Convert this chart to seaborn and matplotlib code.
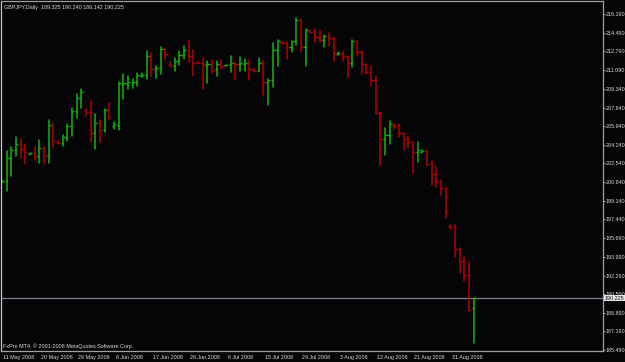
import numpy as np
import pandas as pd
import matplotlib
matplotlib.use("Agg")
import matplotlib.pyplot as plt
import matplotlib.transforms as mtransforms
from matplotlib import font_manager as fm
import seaborn as sns

# ---------------- data ----------------
date_labels = ["11 May 2008", "20 May 2008", "29 May 2008", "8 Jun 2008", "17 Jun 2008",
               "26 Jun 2008", "6 Jul 2008", "15 Jul 2008", "24 Jul 2008", "3 Aug 2008",
               "12 Aug 2008", "21 Aug 2008", "31 Aug 2008"]
date_bars = [0, 8, 16, 24, 32, 40, 48, 56, 64, 72, 80, 88, 96]

opens = [200.86, 200.89, 203.05, 203.72, 204.27, 203.82, 203.42, 203.45, 203.21, 203.97,
         203.30, 206.04, 204.52, 204.36, 204.88, 205.92, 207.29, 208.48, 207.38, 207.26,
         205.28, 206.19, 205.58, 207.38, 205.95, 206.04, 209.82, 209.82, 209.91, 210.00,
         210.52, 210.58, 212.32, 211.16, 211.31, 212.96, 211.65, 211.43, 211.89, 212.44,
         212.86, 212.32, 211.77, 211.71, 211.55, 211.62, 211.13, 211.59, 211.49, 211.59,
         211.68, 211.65, 211.62, 211.68, 211.10, 210.98, 211.71, 209.95, 210.16, 212.87,
         213.60, 213.51, 213.21, 213.69, 215.61, 213.14, 214.64, 214.61, 214.12, 213.84,
         214.18, 213.97, 212.57, 212.66, 212.32, 211.68, 213.72, 212.72, 211.59, 210.89,
         210.19, 207.14, 204.74, 205.10, 206.01, 206.01, 205.28, 204.74, 204.46, 203.55,
         203.61, 203.67, 202.51, 201.60, 200.93, 200.26, 196.78, 196.72, 194.74, 193.64,
         192.30, 189.325]
highs = [201.01, 203.66, 204.06, 204.91, 204.73, 204.30, 203.51, 204.03, 204.64, 204.03,
         206.47, 206.19, 204.61, 205.13, 206.13, 207.56, 208.84, 209.30, 207.53, 208.29,
         207.01, 206.53, 207.47, 208.02, 206.28, 209.94, 210.67, 210.52, 210.21, 210.82,
         210.76, 212.77, 212.62, 211.43, 213.17, 213.05, 211.77, 212.13, 212.83, 213.26,
         213.84, 212.86, 211.80, 212.19, 211.89, 211.98, 211.89, 211.98, 211.52, 212.35,
         211.83, 212.23, 212.08, 212.02, 211.20, 212.17, 211.93, 210.22, 213.54, 213.82,
         213.66, 213.66, 213.72, 215.83, 215.73, 214.85, 214.73, 214.79, 214.73, 214.30,
         214.48, 214.00, 212.75, 212.78, 212.38, 213.82, 213.75, 212.78, 211.62, 211.41,
         210.56, 207.23, 205.77, 206.38, 206.11, 206.14, 205.31, 205.01, 204.52, 204.49,
         203.79, 203.73, 202.72, 202.21, 201.02, 200.29, 196.87, 196.87, 194.80, 193.98,
         193.49, 190.240]
lows = [200.80, 200.04, 201.41, 203.24, 202.99, 202.51, 203.39, 202.81, 202.60, 202.51,
        202.57, 204.06, 204.30, 204.15, 204.55, 205.06, 206.65, 207.56, 206.86, 204.52,
        203.88, 204.46, 205.43, 206.53, 205.70, 205.58, 208.42, 209.33, 209.42, 209.57,
        210.40, 210.27, 210.52, 210.37, 210.73, 212.01, 211.40, 211.01, 211.52, 212.04,
        211.80, 210.49, 211.68, 209.36, 209.91, 210.76, 210.52, 211.13, 211.46, 210.85,
        210.15, 210.95, 211.01, 210.13, 210.86, 210.95, 208.79, 207.90, 209.55, 211.47,
        213.48, 212.08, 212.75, 213.33, 212.69, 211.47, 214.48, 213.60, 213.60, 213.14,
        213.30, 211.93, 212.47, 211.93, 210.43, 211.35, 212.32, 210.74, 210.74, 209.58,
        207.05, 202.42, 203.33, 204.34, 205.65, 204.98, 203.79, 203.94, 201.66, 202.66,
        203.58, 202.27, 200.59, 200.38, 199.68, 197.54, 196.51, 194.01, 192.52, 191.82,
        189.07, 186.142]
closes = [200.92, 203.05, 203.72, 204.27, 203.82, 203.54, 203.48, 203.21, 203.97, 203.17,
          206.04, 204.55, 204.36, 204.94, 205.92, 207.29, 208.48, 209.03, 207.26, 205.28,
          206.19, 205.58, 207.38, 206.74, 206.10, 209.85, 209.88, 209.94, 210.00, 210.61,
          210.58, 212.32, 211.16, 211.28, 212.96, 212.53, 211.46, 211.89, 212.44, 212.86,
          212.32, 211.74, 211.71, 211.62, 211.62, 211.04, 211.62, 211.46, 211.52, 211.68,
          211.62, 211.71, 211.71, 211.20, 210.95, 211.71, 209.95, 210.16, 212.87, 213.75,
          213.51, 213.21, 213.69, 215.61, 213.14, 214.73, 214.58, 214.12, 213.84, 214.18,
          213.97, 212.63, 212.66, 212.32, 211.68, 213.72, 212.72, 211.62, 210.89, 210.19,
          207.14, 204.74, 205.10, 206.11, 205.92, 205.28, 204.74, 204.46, 203.55, 203.73,
          203.70, 202.51, 201.60, 200.93, 200.26, 198.06, 196.69, 194.74, 193.64, 192.30,
          189.17, 190.225]

price_ticks = [216.190, 214.490, 212.790, 211.090, 209.340, 207.640, 205.940, 204.240,
               202.540, 200.840, 199.140, 197.440, 195.690, 193.990, 192.290, 190.590,
               188.890, 187.190, 185.490]

title_text = "GBPJPY,Daily  189.325 190.240 186.142 190.225"
footer_text = "FxPro MT4, \u00a9 2001-2008 MetaQuotes Software Corp."

# ---------------- style ----------------
BG = "#050507"
GREEN = "#14b414"
RED = "#b40000"
FG = "#dcdcdc"
FRAME = "#a0a0a0"

sns.set_theme(style="dark", rc={"axes.facecolor": BG, "figure.facecolor": BG,
                                "axes.grid": False})
names = {f.name for f in fm.fontManager.ttflist}
if "Liberation Sans Narrow" in names:
    FAMILY, FS = ["Liberation Sans Narrow", "DejaVu Sans"], 4.7
else:
    FAMILY, FS = ["Liberation Sans", "DejaVu Sans"], 3.9
plt.rcParams["font.family"] = FAMILY

df = pd.DataFrame({"bar": np.arange(len(opens)), "open": opens, "high": highs,
                   "low": lows, "close": closes})
df["dir"] = np.where(df["close"] >= df["open"], "up", "down")
long = df.melt(id_vars=["bar", "dir"], value_vars=["high", "low"], value_name="price")

W, H = 625, 362
fig = plt.figure(figsize=(W / 100, H / 100), dpi=100)
ax = fig.add_axes([1 / W, 11 / H, 602 / W, 350 / H])
ax.set_facecolor(BG)

sns.lineplot(data=long, x="bar", y="price", units="bar", estimator=None, hue="dir",
             palette={"up": GREEN, "down": RED}, legend=False, linewidth=1.1,
             sort=False, ax=ax)
cols = np.where(df["dir"] == "up", GREEN, RED)
ax.hlines(df["open"], df["bar"] - 0.45, df["bar"], colors=cols, linewidth=1.0)
ax.hlines(df["close"], df["bar"], df["bar"] + 0.45, colors=cols, linewidth=1.0)

last = closes[-1]
ax.axhline(last, color="#7c8288", linewidth=0.9, zorder=1)

ax.set_xlim(-0.21, 128.7)
ax.set_ylim(185.39, 217.38)
ax.set_xlabel("")
ax.set_ylabel("")

# y axis on the right
ax.yaxis.tick_right()
ax.set_yticks(price_ticks)
ax.set_yticklabels([f"{v:.3f}" for v in price_ticks])
ax.tick_params(axis="y", direction="out", length=1.5, width=0.8, color=FRAME,
               labelcolor=FG, labelsize=FS, pad=0.2, left=False, right=True)

# x axis
ax.set_xticks(date_bars)
ax.set_xticklabels(date_labels, ha="left")
ax.tick_params(axis="x", direction="out", length=3, width=0.8, color=FRAME,
               labelcolor=FG, labelsize=FS, pad=0.2)
off = mtransforms.ScaledTranslation(1.5 / 100, 0, fig.dpi_scale_trans)
for lab in ax.get_xticklabels():
    lab.set_transform(lab.get_transform() + off)

for side, s in ax.spines.items():
    s.set_visible(True)
    s.set_color(FRAME)
    s.set_linewidth(0.9)
ax.spines["left"].set_color("#c8c8c8")

# current price box
trans = mtransforms.blended_transform_factory(ax.transAxes, ax.transData)
ax.text(1.0 + 2 / 602, last, f"{last:.3f}", transform=trans, ha="left", va="center",
        fontsize=FS, color="#101010", clip_on=False, zorder=5,
        bbox=dict(boxstyle="square,pad=0.12", fc="#e6e6e6", ec="none"))

fig.text(4 / W, 1 - 7 / H, title_text, ha="left", va="center", fontsize=FS, color=FG)
fig.text(3 / W, 1 - 346 / H, footer_text, ha="left", va="center", fontsize=FS, color=FG)

fig.savefig("out.png", dpi=100, facecolor=BG)
